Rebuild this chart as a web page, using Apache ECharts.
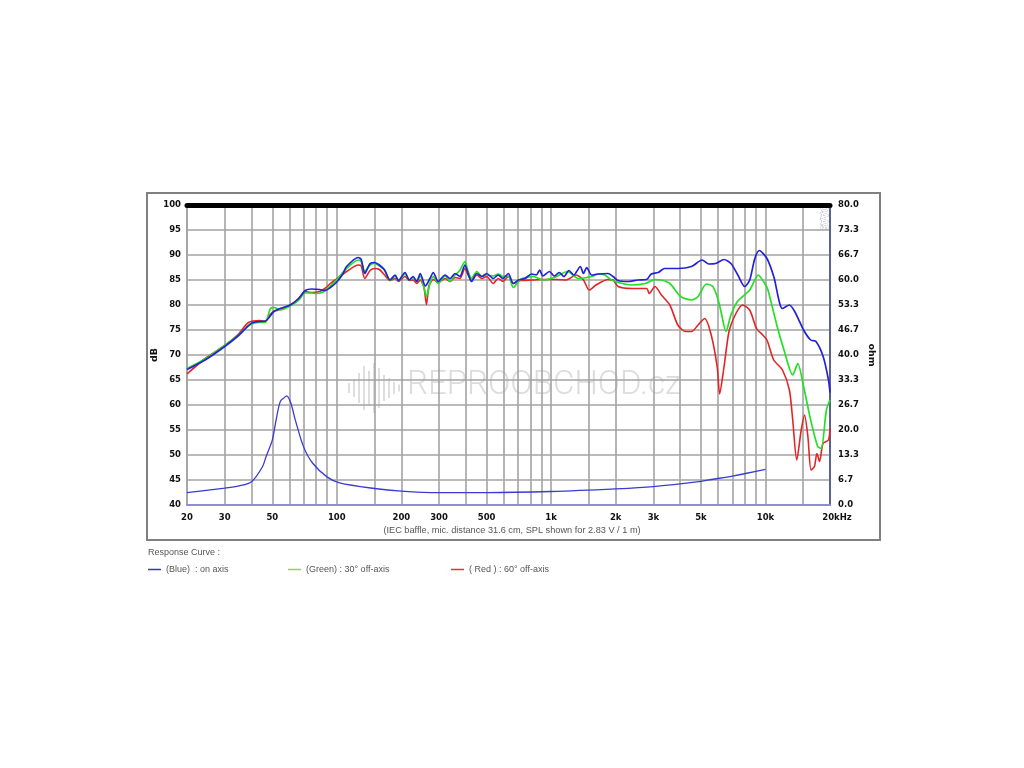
<!DOCTYPE html>
<html><head><meta charset="utf-8">
<script src="https://cdn.jsdelivr.net/npm/echarts@6/dist/echarts.min.js"></script>
<style>html,body{margin:0;padding:0;background:#fff}#c{width:1024px;height:768px}</style>
</head><body><div id="c"></div>
<script>
// ---- axis ticks ----
const xTickValues = [20,30,40,50,60,70,80,90,100,150,200,300,400,500,600,700,800,900,1000,1500,2000,3000,4000,5000,6000,7000,8000,9000,10000,15000,20000];
const xLabelValues = [20,30,50,100,200,300,500,1000,2000,3000,5000,10000,20000];
const ohmTicks = [0, 6.6667, 13.3333, 20, 26.6667, 33.3333, 40, 46.6667, 53.3333, 60, 66.6667, 73.3333, 80];

// ---- Blue: on axis ----
const blueFreq = [20,24.3,30,34.8,37.9,40.1,43.8,46.4,47.9,50.8,54.4,60.6,66.4,71.2,76.4,83.2,88,93.4,100.5,107,111,126,130,135,143,150,158,167,177,187,194,208,218,227,236,245,259,272,282,297,320,338,356,375,396,410,425,450,475,500,537,566,596,631,666,703,755,810,853,884,915,982,1034,1090,1148,1210,1276,1368,1415,1465,1545,1658,1842,1945,2052,2284,2542,2790,2930,3160,3380,3900,4520,5060,5440,5850,6410,6900,7430,8000,8440,8920,9360,10160,10930,12000,12930,13690,15060,16250,17200,18580,19680,20000];
const blueDb = [67.1,69,71.7,73.9,75.5,76.4,76.7,76.8,77.3,78.7,79.3,80,81.3,82.9,83.2,83.1,82.9,83.5,84.7,86.3,87.7,89.5,89.1,86.3,88.3,88.5,88,87,85,86,84.9,86.5,85,85.7,84.7,86.3,83.8,85.3,86.5,84.7,86,85.3,86.3,85.7,88,86.3,84.7,86.3,85.7,86.3,85.3,86,85.3,86.3,84.3,85,85.3,86.2,86,87,85.8,86.7,85.8,86.5,85.7,86.9,86,87.7,86.3,87.5,86,86.2,86.3,85.7,84.9,84.7,85,85.1,86.2,86.5,87.3,87.3,87.7,89,88.2,88.3,89.1,88.3,86,83.7,85,89.3,90.9,89.3,85.7,79.3,80,78.7,75,73,72.7,69.7,65,62.5];

// ---- Green: 30° off-axis ----
const greenFreq = [20,24.3,30,34.8,37.9,40.1,43.8,46.4,49,51,54.4,60.6,66.4,71.2,76.4,80,85.4,93.4,100.5,111,126,130,135,143,150,158,167,177,187,194,208,218,227,236,245,255,262,272,282,297,320,338,356,375,396,410,425,450,475,500,537,566,596,631,666,718,826,915,1034,1190,1337,1545,1658,1780,1910,2202,2400,2750,2927,3050,3270,3580,4020,4520,4850,5300,5680,5990,6200,6540,6900,7400,8440,9250,9920,10270,11340,12200,13400,14150,15060,16250,17520,18200,19240,20000];
const greenDb = [67.3,69.2,71.9,74,75.5,76.2,76.5,76.5,79.3,79.5,79,79.8,81,82.4,82.4,82.3,82.5,83.8,85.2,87.3,89,88.7,86.7,88,88.3,87.8,87,84.9,85.8,84.8,86.2,85,85.5,84.7,85.8,83.5,81.7,84.3,85.7,84.3,85.8,84.7,86,86.9,88.7,86.7,85.3,86.7,85.7,86,85.8,86.2,85.7,85.8,83.5,85.1,85.7,85,85.5,86.7,85.3,85.7,86.2,86,85,84.2,84,84.3,84.8,85.1,85,84.3,81.7,81,81.7,84.2,83.7,81.3,78.7,74.7,78,80.7,83,86,84.3,83,75.7,71,66,68.3,63.7,57,51.7,51.3,59,61];

// ---- Red: 60° off-axis ----
const redFreq = [20,24.3,30,34.8,38.7,43.8,46.4,48.5,50.8,54.4,60.6,66.4,71.2,76.4,83.2,88,93.4,100.5,111,126,130,135,143,150,158,167,177,187,194,208,218,227,236,245,255,262,268,272,282,297,320,338,356,375,396,410,425,450,475,500,537,566,596,631,666,718,826,915,1061,1176,1307,1415,1505,1620,1842,1945,2052,2380,2790,2870,3050,3270,3580,3900,4230,4520,4850,5200,5560,5950,6110,6410,6760,7280,7820,8440,9080,9710,10160,10930,12000,12930,13400,13990,14680,15210,15770,16320,16920,17370,17880,18540,19660,20000];
const redDb = [66.2,69.3,71.9,74.2,76.5,76.9,76.7,77.9,78.7,79.1,80,81.3,82.7,82.5,82.7,83.3,84.3,85.3,86.7,88,87.8,85.3,86.9,87.3,87.1,86,84.9,85.3,84.7,85.7,84.9,85,84.3,85,83.5,80.1,83.5,84.3,85.1,84.5,85.3,84.7,85.5,85.3,87.3,86,84.9,86,85.3,85.7,84.3,85.3,84.7,85.7,84.3,84.9,85,85.1,85.1,85,86,85,83,84,85.1,85,83.7,83.3,83.3,82.3,83.7,82,80,76,74.7,74.7,76,77.3,74.3,67.7,62.2,67.7,74.7,78.3,80,79,75.3,74,73,69,67,63,57,49,55,58,53.7,47,47.7,50.3,48.7,52.3,53,55.3];

// ---- Impedance (ohm) ----
const impFreq = [20,30,35,40,45,46.7,50,51.8,54.4,57,58.4,61,64,70,77,90,103,150,200,300,500,1000,2000,3000,5000,5600,7000,10000];
const impOhm = [3.3,4.5,5.1,6.2,10.2,12.8,17.3,21.9,27.5,28.7,29.1,27.2,22.7,15.5,11.2,7.5,5.9,4.4,3.7,3.3,3.3,3.6,4.3,4.9,6.3,6.8,7.7,9.5];

const names = ['(Blue)  : on axis', '(Green) : 30° off-axis', '( Red ) : 60° off-axis'];
function pairs(f, v) { return f.map((x, i) => [x, v[i]]); }
function fmtX(v) {
  if (v >= 20000) return '{k|20kHz}';
  if (v >= 1000) return (v / 1000) + 'k';
  return String(v);
}
const labelFont = { fontFamily: '"DejaVu Sans", Verdana, sans-serif', fontWeight: 'bold', fontSize: 8.5, color: '#111' };
const grid = '#a3a3a3';
const legendText = { fontFamily: '"Liberation Sans", Arial, sans-serif', fontSize: 9, color: '#555' };

const chart = echarts.init(document.getElementById('c'));
chart.setOption({
  animation: false,
  backgroundColor: '#fff',
  grid: { left: 187, right: 194, top: 205, bottom: 263, containLabel: false },
  xAxis: [
    {
      type: 'log', logBase: 10, min: 20, max: 20000, position: 'bottom',
      axisLine: { show: true, lineStyle: { color: '#8c8cd8', width: 2 } },
      axisTick: { show: false, customValues: xTickValues },
      axisLabel: Object.assign({ customValues: xLabelValues, formatter: fmtX, margin: 8,
        rich: { k: Object.assign({ padding: [0, 0, 0, 14] }, labelFont) } }, labelFont),
      splitLine: { show: true, lineStyle: { color: grid, width: 1.6 } }
    },
    {
      type: 'log', logBase: 10, min: 20, max: 20000, position: 'top',
      axisLine: { show: true, lineStyle: { color: '#000', width: 5 } },
      axisTick: { show: false }, axisLabel: { show: false }, splitLine: { show: false }
    }
  ],
  yAxis: [
    {
      type: 'value', min: 40, max: 100, interval: 5, position: 'left',
      name: 'dB', nameLocation: 'middle', nameRotate: 90, nameGap: 27, nameMoveOverlap: false,
      nameTextStyle: { fontFamily: '"DejaVu Sans", sans-serif', fontWeight: 'bold', fontSize: 9.5, color: '#111' },
      axisLine: { show: true, lineStyle: { color: grid, width: 1.6 } },
      axisTick: { show: false },
      axisLabel: Object.assign({ margin: 6 }, labelFont),
      splitLine: { show: true, lineStyle: { color: grid, width: 1.6 } }
    },
    {
      type: 'value', min: 0, max: 80, position: 'right',
      name: 'ohm', nameLocation: 'middle', nameRotate: -90, nameGap: 36, nameMoveOverlap: false,
      nameTextStyle: { fontFamily: '"DejaVu Sans", sans-serif', fontWeight: 'bold', fontSize: 9.5, color: '#111' },
      axisLine: { show: true, lineStyle: { color: '#5c6290', width: 2 } },
      axisTick: { show: false },
      axisLabel: Object.assign({ margin: 8, customValues: ohmTicks, formatter: v => v.toFixed(1) }, labelFont),
      splitLine: { show: false }
    }
  ],
  legend: [
    { data: [{ name: names[0], itemStyle: { color: '#3a3aa8' } }], left: 148, top: 565, padding: 0, icon: 'rect', itemWidth: 13, itemHeight: 1.5, itemGap: 0, selectedMode: false, textStyle: legendText },
    { data: [{ name: names[1], itemStyle: { color: '#9ad23c' } }], left: 288, top: 565, padding: 0, icon: 'rect', itemWidth: 13, itemHeight: 1.5, selectedMode: false, textStyle: legendText },
    { data: [{ name: names[2], itemStyle: { color: '#e23040' } }], left: 451, top: 565, padding: 0, icon: 'rect', itemWidth: 13, itemHeight: 1.5, selectedMode: false, textStyle: legendText }
  ],
  graphic: [
    { type: 'rect', shape: { x: 147, y: 193, width: 733, height: 347 }, style: { fill: 'none', stroke: '#808080', lineWidth: 2 }, z: 1 },
    { type: 'text', x: 512, y: 530, style: { text: '(IEC baffle, mic. distance 31.6 cm, SPL shown for 2.83 V / 1 m)', fill: '#555', font: '9.2px "Liberation Sans", Arial, sans-serif', textAlign: 'center', textVerticalAlign: 'middle' } },
    { type: 'text', x: 148, y: 553, style: { text: 'Response Curve :', fill: '#555', font: '9px "Liberation Sans", Arial, sans-serif', textVerticalAlign: 'middle' } },
    { type: 'text', x: 407, y: 386, z: -1, style: { text: 'REPROOBCHOD.cz', fill: '#dcdcdc', font: '300 33px Roboto, "Open Sans", sans-serif', textVerticalAlign: 'middle' } },
    { type: 'group', z: -1, children: [10, 18, 30, 44, 34, 50, 40, 26, 20, 12, 7].map((h, i) => ({
        type: 'rect', shape: { x: 348 + i * 5, y: 388 - h / 2, width: 2, height: h }, style: { fill: '#dedede' } })) },
    { type: 'text', x: 823, y: 218, rotation: -Math.PI / 2, style: { text: 'DAAS', fill: '#fff', stroke: '#999', lineWidth: 0.6, font: 'bold 8px "DejaVu Sans", sans-serif', textAlign: 'center', textVerticalAlign: 'middle' } }
  ],
  series: [
    { type: 'line', name: names[2], data: pairs(redFreq, redDb), showSymbol: false, smooth: 0.25,
      lineStyle: { color: '#e42424', width: 1.6 }, itemStyle: { color: '#e42424' }, z: 3 },
    { type: 'line', name: names[1], data: pairs(greenFreq, greenDb), showSymbol: false, smooth: 0.25,
      lineStyle: { color: '#22e022', width: 1.7 }, itemStyle: { color: '#22e022' }, z: 4 },
    { type: 'line', name: names[0], data: pairs(blueFreq, blueDb), showSymbol: false, smooth: 0.25,
      lineStyle: { color: '#2222d8', width: 1.7 }, itemStyle: { color: '#2222d8' }, z: 5 },
    { type: 'line', name: 'Impedance', yAxisIndex: 1, data: pairs(impFreq, impOhm), showSymbol: false, smooth: 0.3,
      lineStyle: { color: '#3a3ad4', width: 1.3 }, itemStyle: { color: '#3a3ad4' }, z: 5 }
  ]
});
</script></body></html>
